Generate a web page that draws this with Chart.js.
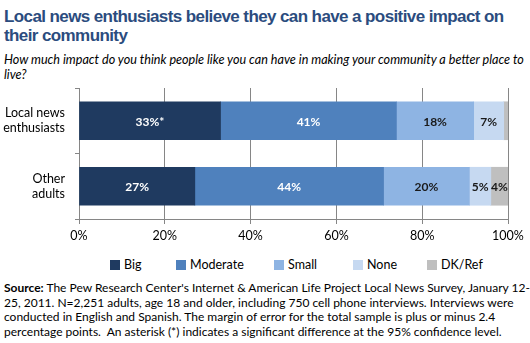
<!DOCTYPE html>
<html>
<head>
<meta charset="utf-8">
<script src="https://cdn.jsdelivr.net/npm/chart.js@4.4.1/dist/chart.umd.min.js"></script>
<style>
  body { margin: 0; width: 530px; height: 343px; background: #fff; position: relative; overflow: hidden; font-family: Lato, "Open Sans", sans-serif; }
  #title { position: absolute; left: 4px; top: 7px; font: bold 17px "Liberation Sans", Arial, sans-serif; letter-spacing: -0.6px; color: #2B4C7E; line-height: 19px; white-space: nowrap; }
  #subtitle { position: absolute; left: 4px; top: 52px; font: italic 12.6px Lato, sans-serif; color: #000; line-height: 15px; white-space: nowrap; }
  #chart-wrap { position: absolute; left: 0; top: 80px; width: 530px; height: 170px; }
  #legend { position: absolute; left: 110px; top: 257px; display: flex; font: 12.5px Lato, sans-serif; color: #000; }
  #legend .item { display: flex; align-items: center; white-space: nowrap; }
  #legend .box { width: 10px; height: 10px; margin-right: 4px; }
  #source { position: absolute; left: 4px; top: 281px; font: 12px Lato, sans-serif; color: #000; line-height: 14.5px; white-space: nowrap; }
</style>
</head>
<body>
<div id="title">Local news enthusiasts believe they can have a positive impact on<br>their community</div>
<div id="subtitle">How much impact do you think people like you can have in making your community a better place to<br>live?</div>
<div id="chart-wrap"><canvas id="impactChart"></canvas></div>
<div id="legend"></div>
<div id="source"><b>Source:</b> The Pew Research Center's Internet &amp; American Life Project Local News Survey, January 12-<br>25, 2011. N=2,251 adults, age 18 and older, including 750 cell phone interviews. Interviews were<br>conducted in English and Spanish. The margin of error for the total sample is plus or minus 2.4<br>percentage points.&nbsp; An asterisk (*) indicates a significant difference at the 95% confidence level.</div>

<script>
// --- Data ---
const groups = [['Local news', 'enthusiasts'], ['Other', 'adults']];
const seriesNames = ['Big', 'Moderate', 'Small', 'None', 'DK/Ref'];
const bigValues = [33, 27];
const moderateValues = [41, 44];
const smallValues = [18, 20];
const noneValues = [7, 5];
const dkValues = [1, 4];
const bigNotes = ['*', ''];
const xTicks = [0, 20, 40, 60, 80, 100];

const seriesColors = ['#1F3A60', '#4F81BD', '#8EB4E3', '#C6D9F1', '#BFBFBF'];
const labelColors = ['#ffffff', '#ffffff', '#1a1a1a', '#1a1a1a', '#1a1a1a'];
const seriesValues = [bigValues, moderateValues, smallValues, noneValues, dkValues];
// legend slot widths, px (spacing only)
const legendSlots = [66, 98, 79, 74, 60];

// Helper: legend built from the series arrays
function buildLegend() {
    const legend = document.getElementById('legend');
    seriesNames.forEach((name, i) => {
        const item = document.createElement('div');
        item.className = 'item';
        item.style.width = legendSlots[i] + 'px';
        item.innerHTML = `<span class="box" style="background:${seriesColors[i]}"></span>${name}`;
        legend.appendChild(item);
    });
}

// Plugin: value labels inside bars
const barLabels = {
    id: 'barLabels',
    afterDatasetsDraw(chart) {
        const ctx = chart.ctx;
        ctx.save();
        ctx.font = 'bold 12px Lato, sans-serif';
        ctx.textAlign = 'center';
        ctx.textBaseline = 'middle';
        chart.data.datasets.forEach((ds, di) => {
            const meta = chart.getDatasetMeta(di);
            meta.data.forEach((bar, i) => {
                const v = ds.data[i];
                if (v < 3) return;
                let text = v + '%';
                if (di === 0) text += bigNotes[i];
                ctx.fillStyle = labelColors[di];
                ctx.fillText(text, (bar.base + bar.x) / 2, bar.y + 1);
            });
        });
        ctx.restore();
    }
};

function renderChart() {
    const ctx = document.getElementById('impactChart');
    new Chart(ctx, {
        type: 'bar',
        data: {
            labels: groups,
            datasets: seriesNames.map((name, i) => ({
                label: name,
                data: seriesValues[i],
                backgroundColor: seriesColors[i],
                borderWidth: 0,
                barThickness: 38
            }))
        },
        options: {
            indexAxis: 'y',
            responsive: true,
            maintainAspectRatio: false,
            animation: false,
            layout: { padding: { top: 8, right: 22, bottom: 3, left: 0 } },
            plugins: {
                legend: { display: false },
                tooltip: { enabled: false }
            },
            scales: {
                x: {
                    stacked: true,
                    min: 0,
                    max: 100,
                    afterBuildTicks: (scale) => { scale.ticks = xTicks.map(v => ({ value: v })); },
                    grid: { color: '#868686', lineWidth: 1, tickLength: 5 },
                    border: { color: '#868686' },
                    ticks: {
                        color: '#000',
                        font: { family: 'Lato', size: 12.5 },
                        padding: 4,
                        callback: (v) => v + '%'
                    }
                },
                y: {
                    stacked: true,
                    afterFit: (scale) => {
                        scale.width = 79;
                        scale.paddingTop = 0;
                        scale.paddingBottom = 0;
                    },
                    grid: { drawOnChartArea: false, color: '#868686', tickLength: 4, offset: true },
                    border: { color: '#868686' },
                    ticks: {
                        color: '#000',
                        font: { family: 'Lato', size: 12.5 },
                        padding: 10
                    }
                }
            }
        },
        plugins: [barLabels]
    });
}

buildLegend();
renderChart();
</script>
</body>
</html>
